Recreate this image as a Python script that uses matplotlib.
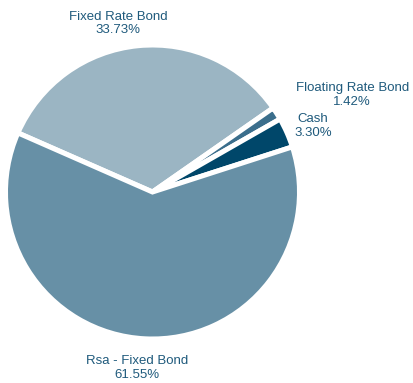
import matplotlib
matplotlib.use("Agg")
import matplotlib.pyplot as plt
import numpy as np

plt.rcParams['font.family'] = ['Liberation Sans', 'DejaVu Sans']

categories = ["Fixed Rate Bond", "Floating Rate Bond", "Cash", "Rsa - Fixed Bond"]
shares = [33.73, 1.42, 3.30, 61.55]
colors = ["#9bb5c3", "#3b6e8c", "#00476a", "#6790a6"]
text_color = "#1f5a7c"

W, H = 414, 383
cx, cy, r = 152.5, 192, 147

fig = plt.figure(figsize=(W / 100, H / 100), dpi=100)
ax = fig.add_axes([(cx - r) / W, (H - cy - r) / H, 2 * r / W, 2 * r / H])

wedges, _ = ax.pie(shares, colors=colors, startangle=156.3, counterclock=False,
                   wedgeprops=dict(edgecolor="white", linewidth=3.6))
ax.set_xlim(-1, 1)
ax.set_ylim(-1, 1)
ax.set_aspect("equal")

# label placement (angle offset in degrees, distance in radii)
label_pos = {
    "Fixed Rate Bond": (6, 1.17),
    "Floating Rate Bond": (-6.5, 1.51),
    "Cash": (-1.5, 1.18),
    "Rsa - Fixed Bond": (-2, 1.2),
}

for w, name, val in zip(wedges, categories, shares):
    mid = (w.theta1 + w.theta2) / 2
    off, dist = label_pos[name]
    ang = np.deg2rad(mid + off)
    ax.text(dist * np.cos(ang), dist * np.sin(ang), f"{name}\n{val:.2f}%",
            ha="center", va="center", fontsize=9.5, color=text_color,
            linespacing=1.2, clip_on=False)

fig.savefig("out.png", dpi=100)
